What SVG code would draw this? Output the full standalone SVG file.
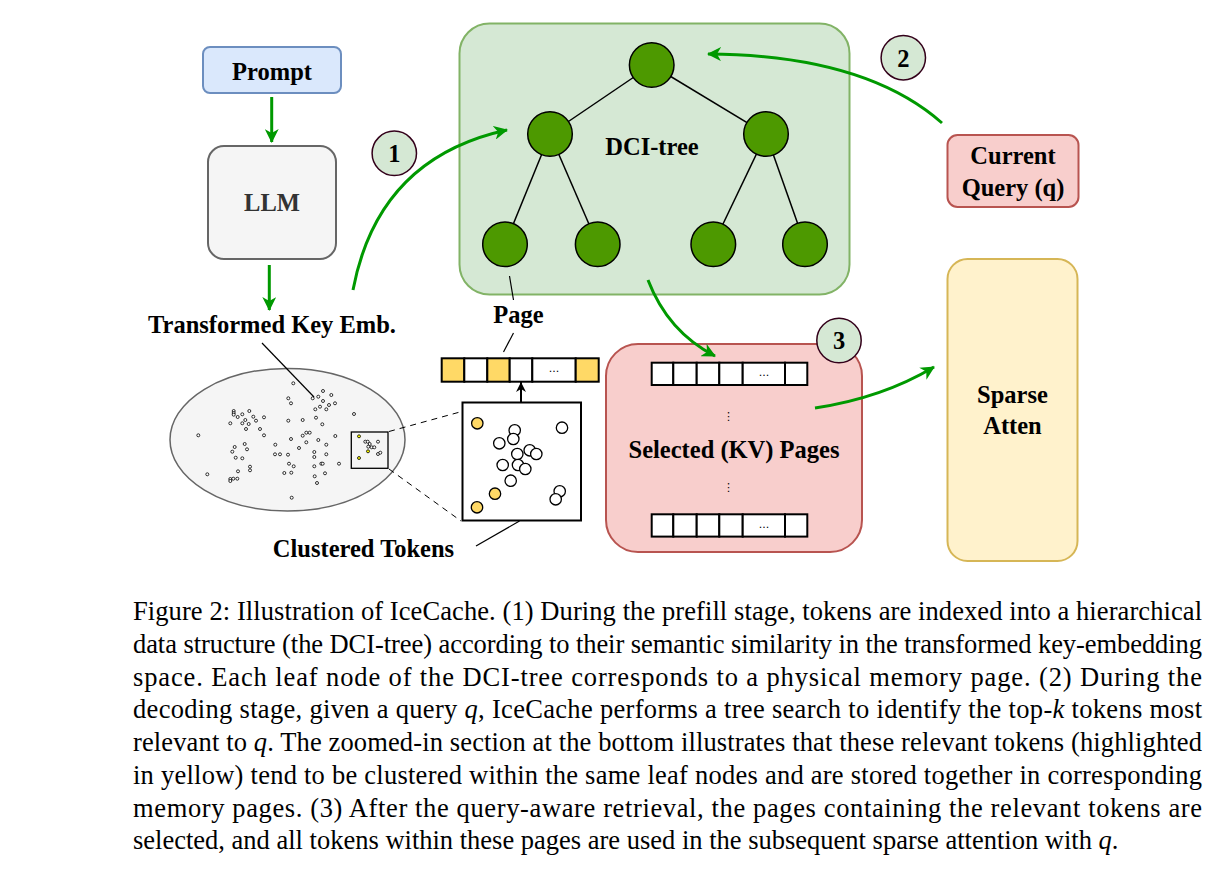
<svg xmlns="http://www.w3.org/2000/svg" width="1219" height="880" viewBox="0 0 1219 880">
<style>
.lbl{font-family:"Liberation Serif","Times New Roman",serif;font-weight:bold;font-size:24.5px;fill:#000;text-anchor:middle}
.cap{font-family:"Liberation Serif","Times New Roman",serif;font-size:26.5px;fill:#000}
.gar{fill:none;stroke:#009900;stroke-width:3}
.tn{fill:#4d9900;stroke:#000;stroke-width:1.5}
.te{stroke:#000;stroke-width:1.5}
.num{fill:#d5e8d4;stroke:#33001a;stroke-width:1.5}
.dot{fill:#fff;stroke:#000;stroke-width:0.8}
.ydot{fill:#ffff00;stroke:#000;stroke-width:0.8}
.zc{fill:#fff;stroke:#000;stroke-width:1.3}
.zy{fill:#ffd966;stroke:#000;stroke-width:1.3}
.cell{fill:#fff;stroke:#000;stroke-width:2}
.ycell{fill:#ffd966;stroke:#000;stroke-width:2}
.ell{font-family:"DejaVu Sans",sans-serif;font-size:11px;text-anchor:middle;fill:#000}
</style>
<defs>
<marker id="ga" markerUnits="userSpaceOnUse" markerWidth="16" markerHeight="14" refX="13" refY="7" orient="auto">
<path d="M0,0 L14,7 L0,14 L4,7 z" fill="#009900"/>
</marker>
<marker id="ba" markerUnits="userSpaceOnUse" markerWidth="12" markerHeight="12" refX="10" refY="6" orient="auto">
<path d="M0,1 L10,6 L0,11 L3,6 z" fill="#000"/>
</marker>
</defs>
<rect width="1219" height="880" fill="#fff"/>

<g id="dci-tree-box">
<rect x="459.5" y="23.5" width="390" height="271" rx="30" fill="#d5e8d4" stroke="#82b366" stroke-width="2"/>
<g class="te">
<line x1="651.7" y1="65" x2="550" y2="134"/>
<line x1="651.7" y1="65" x2="766" y2="134"/>
<line x1="550" y1="134" x2="505" y2="244.3"/>
<line x1="550" y1="134" x2="597.7" y2="244.3"/>
<line x1="766" y1="134" x2="713.3" y2="244.3"/>
<line x1="766" y1="134" x2="805" y2="244.3"/>
</g>
<circle class="tn" cx="651.7" cy="65" r="22.3"/>
<circle class="tn" cx="550" cy="134" r="22.3"/>
<circle class="tn" cx="766" cy="134" r="22.3"/>
<circle class="tn" cx="505" cy="244.3" r="22.3"/>
<circle class="tn" cx="597.7" cy="244.3" r="22.3"/>
<circle class="tn" cx="713.3" cy="244.3" r="22.3"/>
<circle class="tn" cx="805" cy="244.3" r="22.3"/>
<text class="lbl" x="652" y="155">DCI-tree</text>
</g>

<g id="prompt">
<rect x="203" y="47" width="138" height="46" rx="7" fill="#dae8fc" stroke="#6c8ebf" stroke-width="2"/>
<text class="lbl" x="272" y="80">Prompt</text>
</g>
<g id="llm">
<rect x="208" y="146" width="128" height="113" rx="16" fill="#f5f5f5" stroke="#666666" stroke-width="2"/>
<text class="lbl" x="272" y="211" style="fill:#333">LLM</text>
</g>
<g id="tke-label">
<text class="lbl" x="272" y="333">Transformed Key Emb.</text>
</g>

<g id="embedding-space">
<ellipse cx="287.5" cy="439.7" rx="117.5" ry="71.3" fill="#f5f5f5" stroke="#666666" stroke-width="1.5"/>
<g>
<circle class="dot" cx="293.3" cy="383.3" r="1.5"/><circle class="dot" cx="288.3" cy="398.3" r="1.5"/><circle class="dot" cx="291" cy="403.3" r="1.5"/>
<circle class="dot" cx="312.7" cy="398.3" r="1.5"/><circle class="dot" cx="318.3" cy="396.7" r="1.5"/><circle class="dot" cx="323" cy="391" r="1.5"/>
<circle class="dot" cx="331.3" cy="395" r="1.5"/><circle class="dot" cx="323" cy="401" r="1.5"/><circle class="dot" cx="335" cy="403.3" r="1.5"/>
<circle class="dot" cx="320" cy="406.7" r="1.5"/><circle class="dot" cx="315.3" cy="409.3" r="1.5"/><circle class="dot" cx="329" cy="405" r="1.5"/>
<circle class="dot" cx="326.3" cy="409.3" r="1.5"/><circle class="dot" cx="354" cy="414" r="1.5"/>
<circle class="dot" cx="233.7" cy="411" r="1.5"/><circle class="dot" cx="233.7" cy="413" r="1.5"/><circle class="dot" cx="233.7" cy="414.7" r="1.5"/>
<circle class="dot" cx="249.3" cy="411" r="1.5"/><circle class="dot" cx="242.3" cy="414.3" r="1.5"/><circle class="dot" cx="237.7" cy="417" r="1.5"/>
<circle class="dot" cx="253.3" cy="416.7" r="1.5"/><circle class="dot" cx="264" cy="417.3" r="1.5"/><circle class="dot" cx="230.3" cy="423.3" r="1.5"/>
<circle class="dot" cx="242.3" cy="423.3" r="1.5"/><circle class="dot" cx="245.3" cy="420" r="1.5"/><circle class="dot" cx="248.7" cy="424" r="1.5"/>
<circle class="dot" cx="256" cy="420.7" r="1.5"/><circle class="dot" cx="246" cy="429" r="1.5"/><circle class="dot" cx="260" cy="429" r="1.5"/>
<circle class="dot" cx="288.3" cy="420.7" r="1.5"/><circle class="dot" cx="302.7" cy="420" r="1.5"/><circle class="dot" cx="316" cy="417.7" r="1.5"/>
<circle class="dot" cx="322.3" cy="424.3" r="1.5"/><circle class="dot" cx="198.3" cy="435.3" r="1.5"/><circle class="dot" cx="264" cy="435.3" r="1.5"/>
<circle class="dot" cx="306.3" cy="432.7" r="1.5"/><circle class="dot" cx="309.7" cy="432.7" r="1.5"/><circle class="dot" cx="302.7" cy="435.7" r="1.5"/>
<circle class="dot" cx="291" cy="439" r="1.5"/><circle class="dot" cx="318.3" cy="440" r="1.5"/><circle class="dot" cx="335.3" cy="436" r="1.5"/>
<circle class="dot" cx="244.7" cy="444" r="1.5"/><circle class="dot" cx="234.7" cy="447" r="1.5"/><circle class="dot" cx="247" cy="449.3" r="1.5"/>
<circle class="dot" cx="232.3" cy="451.7" r="1.5"/><circle class="dot" cx="275.3" cy="444.7" r="1.5"/><circle class="dot" cx="306.3" cy="442.3" r="1.5"/>
<circle class="dot" cx="326.3" cy="444.7" r="1.5"/><circle class="dot" cx="299" cy="448" r="1.5"/><circle class="dot" cx="314.3" cy="452" r="1.5"/>
<circle class="dot" cx="275" cy="454.3" r="1.5"/><circle class="dot" cx="280" cy="454.3" r="1.5"/><circle class="dot" cx="288" cy="454.7" r="1.5"/>
<circle class="dot" cx="326.3" cy="454.3" r="1.5"/><circle class="dot" cx="235.7" cy="457.7" r="1.5"/><circle class="dot" cx="242.3" cy="458.3" r="1.5"/>
<circle class="dot" cx="314.3" cy="457" r="1.5"/><circle class="dot" cx="289" cy="463.7" r="1.5"/><circle class="dot" cx="293.7" cy="466.3" r="1.5"/>
<circle class="dot" cx="314.3" cy="466.3" r="1.5"/><circle class="dot" cx="321.3" cy="463.7" r="1.5"/><circle class="dot" cx="322.7" cy="463.7" r="1.5"/>
<circle class="dot" cx="339" cy="463.7" r="1.5"/><circle class="dot" cx="250" cy="466.7" r="1.5"/><circle class="dot" cx="250" cy="470.3" r="1.5"/>
<circle class="dot" cx="238" cy="471.3" r="1.5"/><circle class="dot" cx="284.3" cy="473" r="1.5"/><circle class="dot" cx="291.3" cy="472.7" r="1.5"/>
<circle class="dot" cx="325" cy="473.3" r="1.5"/><circle class="dot" cx="207.3" cy="474.3" r="1.5"/><circle class="dot" cx="314.7" cy="476.3" r="1.5"/>
<circle class="dot" cx="230.3" cy="479" r="1.5"/><circle class="dot" cx="230.3" cy="481" r="1.5"/><circle class="dot" cx="233.3" cy="478.7" r="1.5"/>
<circle class="dot" cx="237.3" cy="478.7" r="1.5"/><circle class="dot" cx="317" cy="483" r="1.5"/><circle class="dot" cx="291.7" cy="497.7" r="1.5"/>
</g>
<rect x="351.3" y="432" width="36.7" height="36.3" fill="none" stroke="#000" stroke-width="1.3"/>
<circle class="ydot" cx="359" cy="436.3" r="1.5"/><circle class="ydot" cx="368" cy="451.3" r="1.5"/><circle class="ydot" cx="359" cy="458" r="1.5"/>
<circle class="dot" cx="365.3" cy="441.7" r="1.5"/><circle class="dot" cx="367.7" cy="441.7" r="1.5"/><circle class="dot" cx="369.7" cy="444" r="1.5"/>
<circle class="dot" cx="368.3" cy="446.7" r="1.5"/><circle class="dot" cx="371.7" cy="447.3" r="1.5"/><circle class="dot" cx="374.3" cy="447.3" r="1.5"/>
<circle class="dot" cx="378" cy="441.7" r="1.5"/><circle class="dot" cx="378" cy="454" r="1.5"/><circle class="dot" cx="380.3" cy="452.7" r="1.5"/>
</g>

<g id="zoomed-cluster">
<rect x="462.5" y="402.5" width="118.5" height="118" fill="#fff" stroke="#000" stroke-width="2"/>
<circle class="zy" cx="477.3" cy="423.3" r="5.7"/>
<circle class="zc" cx="514.7" cy="430.3" r="5.7"/>
<circle class="zc" cx="513.3" cy="439" r="5.7"/>
<circle class="zc" cx="499.3" cy="443.3" r="5.7"/>
<circle class="zc" cx="562" cy="427.7" r="5.7"/>
<circle class="zc" cx="517.3" cy="454" r="5.7"/>
<circle class="zc" cx="529.7" cy="450.3" r="5.7"/>
<circle class="zc" cx="536.3" cy="454" r="5.7"/>
<circle class="zc" cx="502.7" cy="465" r="5.7"/>
<circle class="zc" cx="518" cy="465" r="5.7"/>
<circle class="zc" cx="525.3" cy="469" r="5.7"/>
<circle class="zc" cx="510.7" cy="480.7" r="5.7"/>
<circle class="zy" cx="495" cy="493.7" r="5.7"/>
<circle class="zy" cx="477" cy="507.3" r="5.7"/>
<circle class="zc" cx="559.7" cy="491.3" r="5.7"/>
<circle class="zc" cx="555.7" cy="499.3" r="5.7"/>
</g>

<g id="page-strip">
<rect class="ycell" x="441.7" y="358.3" width="22.6" height="23.4"/>
<rect class="cell" x="464.3" y="358.3" width="23" height="23.4"/>
<rect class="ycell" x="487.3" y="358.3" width="22.4" height="23.4"/>
<rect class="cell" x="509.7" y="358.3" width="22.6" height="23.4"/>
<rect class="cell" x="532.3" y="358.3" width="43.4" height="23.4"/>
<rect class="ycell" x="575.7" y="358.3" width="23" height="23.4"/>
<text class="ell" x="554" y="372">...</text>
</g>
<g id="page-label">
<text class="lbl" x="518.5" y="323">Page</text>
</g>
<g id="clustered-label">
<text class="lbl" x="363.5" y="557">Clustered Tokens</text>
</g>

<g id="selected-pages">
<rect x="606" y="344" width="256" height="208" rx="32" fill="#f8cecc" stroke="#b85450" stroke-width="2"/>
<rect class="cell" x="651.7" y="362.7" width="21.6" height="22.3"/>
<rect class="cell" x="673.3" y="362.7" width="23.4" height="22.3"/>
<rect class="cell" x="696.7" y="362.7" width="22.6" height="22.3"/>
<rect class="cell" x="719.3" y="362.7" width="23.4" height="22.3"/>
<rect class="cell" x="742.7" y="362.7" width="42.3" height="22.3"/>
<rect class="cell" x="785" y="362.7" width="22.3" height="22.3"/>
<text class="ell" x="764" y="376">...</text>
<rect class="cell" x="651.7" y="514.3" width="21.6" height="22.3"/>
<rect class="cell" x="673.3" y="514.3" width="23.4" height="22.3"/>
<rect class="cell" x="696.7" y="514.3" width="22.6" height="22.3"/>
<rect class="cell" x="719.3" y="514.3" width="23.4" height="22.3"/>
<rect class="cell" x="742.7" y="514.3" width="42.3" height="22.3"/>
<rect class="cell" x="785" y="514.3" width="22.3" height="22.3"/>
<text class="ell" x="764" y="528">...</text>
<text class="ell" x="728.5" y="420" font-size="12">⋮</text>
<text class="ell" x="728.5" y="491" font-size="12">⋮</text>
<text class="lbl" x="734" y="458">Selected (KV) Pages</text>
</g>

<g id="current-query">
<rect x="947.5" y="135" width="131" height="72" rx="10" fill="#f8cecc" stroke="#b85450" stroke-width="2"/>
<text class="lbl" x="1013" y="164">Current</text>
<text class="lbl" x="1013" y="195.5">Query (q)</text>
</g>

<g id="sparse-atten">
<rect x="947.5" y="259" width="130" height="302" rx="20" fill="#fff2cc" stroke="#d6b656" stroke-width="2"/>
<text class="lbl" x="1012.5" y="403">Sparse</text>
<text class="lbl" x="1012.5" y="434">Atten</text>
</g>

<g id="connectors">
<line x1="271.7" y1="97" x2="271.7" y2="142" class="gar" marker-end="url(#ga)"/>
<line x1="269.3" y1="265" x2="269.3" y2="310" class="gar" marker-end="url(#ga)"/>
<path d="M353,290 Q378,158 507,130" class="gar" marker-end="url(#ga)"/>
<path d="M942,123 Q865,55 708,54" class="gar" marker-end="url(#ga)"/>
<path d="M648,280 Q668,332 715,356" class="gar" marker-end="url(#ga)"/>
<path d="M815,408 Q882,398 934,367" class="gar" marker-end="url(#ga)"/>
<line x1="521" y1="402.5" x2="521" y2="382" stroke="#000" stroke-width="2" marker-end="url(#ba)"/>
<line x1="262" y1="343" x2="314" y2="397" stroke="#000" stroke-width="1.2"/>
<line x1="509.5" y1="276" x2="513.5" y2="300" stroke="#000" stroke-width="1.2"/>
<line x1="513.5" y1="333" x2="503.5" y2="352" stroke="#000" stroke-width="1.2"/>
<line x1="476" y1="546" x2="519.5" y2="521" stroke="#000" stroke-width="1.2"/>
<line x1="389" y1="431.5" x2="460" y2="412" stroke="#000" stroke-width="1" stroke-dasharray="6,5"/>
<line x1="389" y1="469" x2="461" y2="521" stroke="#000" stroke-width="1" stroke-dasharray="6,5"/>
</g>

<g id="step-1">
<circle class="num" cx="394.3" cy="153.3" r="22.2"/>
<text class="lbl" x="394.3" y="162">1</text>
</g>
<g id="step-2">
<circle class="num" cx="903.3" cy="57.7" r="22.2"/>
<text class="lbl" x="903.3" y="66.5">2</text>
</g>
<g id="step-3">
<circle class="num" cx="839" cy="340.5" r="22.2"/>
<text class="lbl" x="839" y="349">3</text>
</g>

<g id="caption">
<text class="cap" x="133" y="620" textLength="1069" lengthAdjust="spacing">Figure 2: Illustration of IceCache. (1) During the prefill stage, tokens are indexed into a hierarchical</text>
<text class="cap" x="133" y="653" textLength="1069" lengthAdjust="spacing">data structure (the DCI-tree) according to their semantic similarity in the transformed key-embedding</text>
<text class="cap" x="133" y="685.7" textLength="1069" lengthAdjust="spacing">space.  Each leaf node of the DCI-tree corresponds to a physical memory page.  (2) During the</text>
<text class="cap" x="133" y="718.4" textLength="1069" lengthAdjust="spacing">decoding stage, given a query <tspan font-style="italic">q</tspan>, IceCache performs a tree search to identify the top-<tspan font-style="italic">k</tspan> tokens most</text>
<text class="cap" x="133" y="751.1" textLength="1069" lengthAdjust="spacing">relevant to <tspan font-style="italic">q</tspan>. The zoomed-in section at the bottom illustrates that these relevant tokens (highlighted</text>
<text class="cap" x="133" y="783.8" textLength="1069" lengthAdjust="spacing">in yellow) tend to be clustered within the same leaf nodes and are stored together in corresponding</text>
<text class="cap" x="133" y="816.5" textLength="1069" lengthAdjust="spacing">memory pages.  (3) After the query-aware retrieval, the pages containing the relevant tokens are</text>
<text class="cap" x="133" y="849">selected, and all tokens within these pages are used in the subsequent sparse attention with <tspan font-style="italic">q</tspan>.</text>
</g>
</svg>
